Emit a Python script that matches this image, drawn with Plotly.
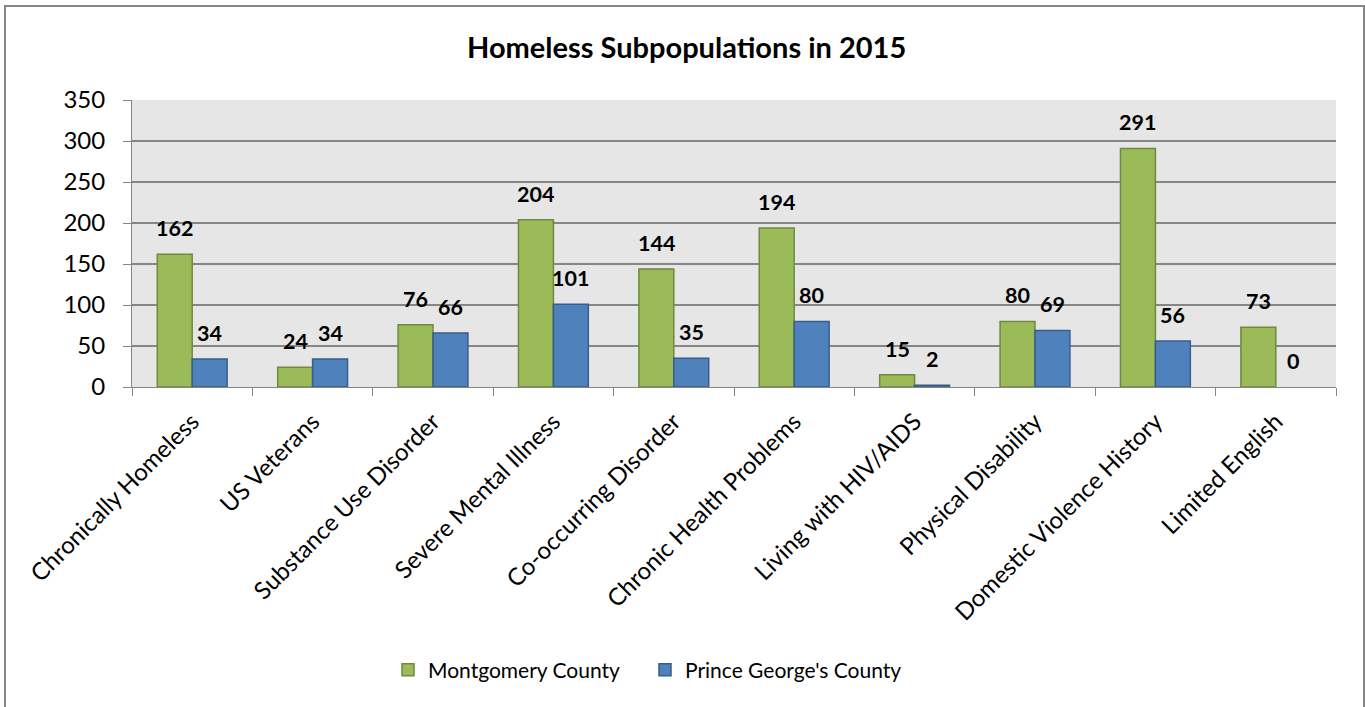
import plotly.graph_objects as go

categories = ["Chronically Homeless", "US Veterans", "Substance Use Disorder",
              "Severe Mental Illness", "Co-occurring Disorder", "Chronic Health Problems",
              "Living with HIV/AIDS", "Physical Disability", "Domestic Violence History",
              "Limited English"]
montgomery = [162, 24, 76, 204, 144, 194, 15, 80, 291, 73]
prince_georges = [34, 34, 66, 101, 35, 80, 2, 69, 56, 0]
series_names = ["Montgomery County", "Prince George's County"]
y_ticks = [0, 50, 100, 150, 200, 250, 300, 350]

FONT = "Lato"
GREEN, GREEN_LINE = "#9BBB59", "#71893F"
BLUE, BLUE_LINE = "#4F81BD", "#385D8A"


def outline_widths(vals):
    return [1.5 if v > 0 else 0 for v in vals]


fig = go.Figure()
fig.add_trace(go.Bar(x=categories, y=montgomery, name=series_names[0],
                     marker=dict(color=GREEN,
                                 line=dict(color=GREEN_LINE, width=outline_widths(montgomery)))))
fig.add_trace(go.Bar(x=categories, y=prince_georges, name=series_names[1],
                     marker=dict(color=BLUE,
                                 line=dict(color=BLUE_LINE, width=outline_widths(prince_georges)))))

# data labels
annotations = []
for vals, shift in ((montgomery, -17.5), (prince_georges, 17.5)):
    for c, v in zip(categories, vals):
        annotations.append(dict(x=c, y=v, xref="x", yref="y", text=f"<b>{v}</b>",
                                showarrow=False, xshift=shift, yshift=26,
                                font=dict(family=FONT, size=21.5, color="#000000")))
annotations.append(dict(x=(686 - 132) / 1204, y=(387 - 47) / 287, xref="paper", yref="paper",
                        xanchor="center", yanchor="middle",
                        text="<b>Homeless Subpopulations in 2015</b>", showarrow=False,
                        font=dict(family=FONT, size=29, color="#000000")))

# outer chart border (plot px: left 132, right 1336, top 100, bottom 387)
shapes = [dict(type="rect", xref="paper", yref="paper",
               x0=(5 - 132) / 1204, x1=(1364 - 132) / 1204,
               y0=(387 - 712) / 287, y1=(387 - 6) / 287,
               line=dict(color="#868686", width=2), fillcolor="rgba(0,0,0,0)", layer="below")]

fig.update_layout(
    width=1365, height=707,
    margin=dict(l=132, r=29, t=100, b=320),
    paper_bgcolor="white", plot_bgcolor="#E6E6E6",
    barmode="group", bargap=0.42, bargroupgap=0,
    showlegend=True,
    legend=dict(orientation="h", x=(645 - 132) / 1204, xanchor="center",
                y=(387 - 670) / 287, yanchor="middle",
                font=dict(family=FONT, size=21, color="#000000"),
                itemwidth=30, tracegroupgap=0, entrywidth=212),
    annotations=annotations, shapes=shapes,
    font=dict(family=FONT, color="#000000"),
)
fig.update_xaxes(tickangle=-45, tickfont=dict(family=FONT, size=24, color="#000000"),
                 showline=True, linecolor="#868686", linewidth=1,
                 ticks="outside", tickson="boundaries", ticklen=8, tickcolor="#868686",
                 showgrid=False, mirror=False, ticklabelstandoff=10)
fig.update_yaxes(range=[0, 350], tickvals=y_ticks,
                 tickfont=dict(family=FONT, size=24, color="#000000"),
                 showline=True, linecolor="#868686", linewidth=1,
                 ticks="outside", ticklen=8, tickcolor="#868686",
                 showgrid=True, gridcolor="#868686", gridwidth=1.5,
                 zeroline=False, ticklabelstandoff=13)

fig.write_html("out.html", config={"displayModeBar": False},
               post_script="document.body.style.margin='0';document.body.style.overflow='hidden';")
